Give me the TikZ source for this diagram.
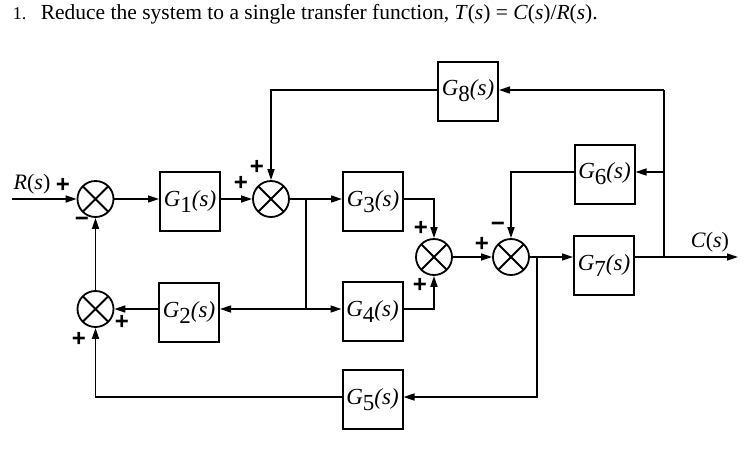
\documentclass[tikz,border=0pt]{standalone}
\usepackage{fontspec}
\setmainfont{Liberation Serif}
\newfontfamily\signfont{Liberation Sans}
\usetikzlibrary{arrows.meta,calc}
\newcommand\Gfn[1]{\textit{G}\raisebox{-0.25em}{#1}\textit{(s)}}
\begin{document}
\begin{tikzpicture}[x=1pt,y=-1pt, line width=1.6pt,
 blk/.style={draw, line width=2pt, minimum width=60pt, minimum height=59pt, inner sep=0pt, font=\fontsize{23}{24}\selectfont},
 sumj/.style={circle, draw, line width=1.8pt, minimum size=36pt, inner sep=0pt,
   path picture={\draw[line width=1.8pt] (path picture bounding box.south west) -- (path picture bounding box.north east) (path picture bounding box.north west) -- (path picture bounding box.south east);}},
 arr/.style={-{Triangle[length=11pt,width=7pt]}},
 sgn/.style={font=\signfont\bfseries\fontsize{24}{24}\selectfont, inner sep=0pt},
 lbl/.style={font=\fontsize{22}{24}\selectfont, inner sep=0pt}]
\useasboundingbox (0,0) rectangle (756,464);
% title
\node[anchor=base west, inner sep=0pt, font=\fontsize{18}{20}\selectfont] (num) at (12,19) {1.};
\node[anchor=base west, inner sep=0pt, font=\fontsize{21.5}{24}\selectfont] (title) at (40,19) {Reduce the system to a single transfer function, \textit{T}(\textit{s}) = \textit{C}(\textit{s})/\textit{R}(\textit{s}).};
% summing junctions
\node[sumj] (S1) at (95.5,199) {};
\node[sumj] (S2) at (271,199) {};
\node[sumj] (S3) at (434,257) {};
\node[sumj] (S4) at (511,257) {};
\node[sumj] (S5) at (95.5,309) {};
% blocks
\node[blk] (G1) at (190,201.5) {\Gfn{1}};
\node[blk] (G2) at (189,312.5) {\Gfn{2}};
\node[blk] (G3) at (373,201.5) {\Gfn{3}};
\node[blk] (G4) at (372.5,311.5) {\Gfn{4}};
\node[blk] (G5) at (372.5,399.5) {\Gfn{5}};
\node[blk] (G6) at (604.5,174) {\Gfn{6}};
\node[blk] (G7) at (604,265.5) {\Gfn{7}};
\node[blk] (G8) at (468,91) {\Gfn{8}};
% coordinates
\coordinate (in) at (12,199);
\coordinate (b1) at (306,199);
\coordinate (b2) at (306,309);
\coordinate (b3) at (537,257);
\coordinate (b4) at (537,397);
\coordinate (b6) at (664,257);
\coordinate (b7) at (664,172);
\coordinate (b8) at (664,90);
\coordinate (out) at (738,257);
% connectors
\draw[arr] (in) -- (S1.west);
\draw[arr] (S1.east) -- (G1.west |- S1);
\draw[arr] (G1.east |- S2) -- (S2.west);
\draw[arr] (S2.east) -- (G3.west |- S2);
\draw (b1) -- (b2);
\draw[arr] (b2) -- (G2.east |- b2);
\draw[arr] (b2) -- (G4.west |- b2);
\draw[arr] (G2.west |- S5) -- (S5.east);
\draw[arr] (S5.north) -- (S1.south);
\draw[arr] (G3.east |- S2) -| (S3.north);
\draw[arr] (G4.east |- b2) -| (S3.south);
\draw[arr] (S3.east) -- (S4.west);
\draw[arr] (S4.east) -- (G7.west |- S4);
\draw[arr] (b3) |- (G5.east |- b4);
\draw[arr] (G5.west |- b4) -| (S5.south);
\draw[arr] (G7.east |- S4) -- (out);
\draw (b6) -- (b8);
\draw[arr] (b8) -- (G8.east |- b8);
\draw[arr] (b7) -- (G6.east |- b7);
\draw[arr] (G6.west |- b7) -| (S4.north);
\draw[arr] (G8.west |- b8) -| (S2.north);
% labels
\node[lbl] (Rs) at (32,184) {\textit{R}(\textit{s})};
\node[lbl] (Cs) at (710,242) {\textit{C}(\textit{s})};
\node[sgn] (p1) at (63,185) {+};
\node[sgn] (m1) at (82,222) {−};
\node[sgn] (p2a) at (257,167) {+};
\node[sgn] (p2b) at (241,183) {+};
\node[sgn] (p3a) at (421,228) {+};
\node[sgn] (p3b) at (420,285) {+};
\node[sgn] (p4a) at (482,244) {+};
\node[sgn] (m4) at (498,227) {−};
\node[sgn] (p5a) at (122,322) {+};
\node[sgn] (p5b) at (79,339) {+};
\end{tikzpicture}
\end{document}
